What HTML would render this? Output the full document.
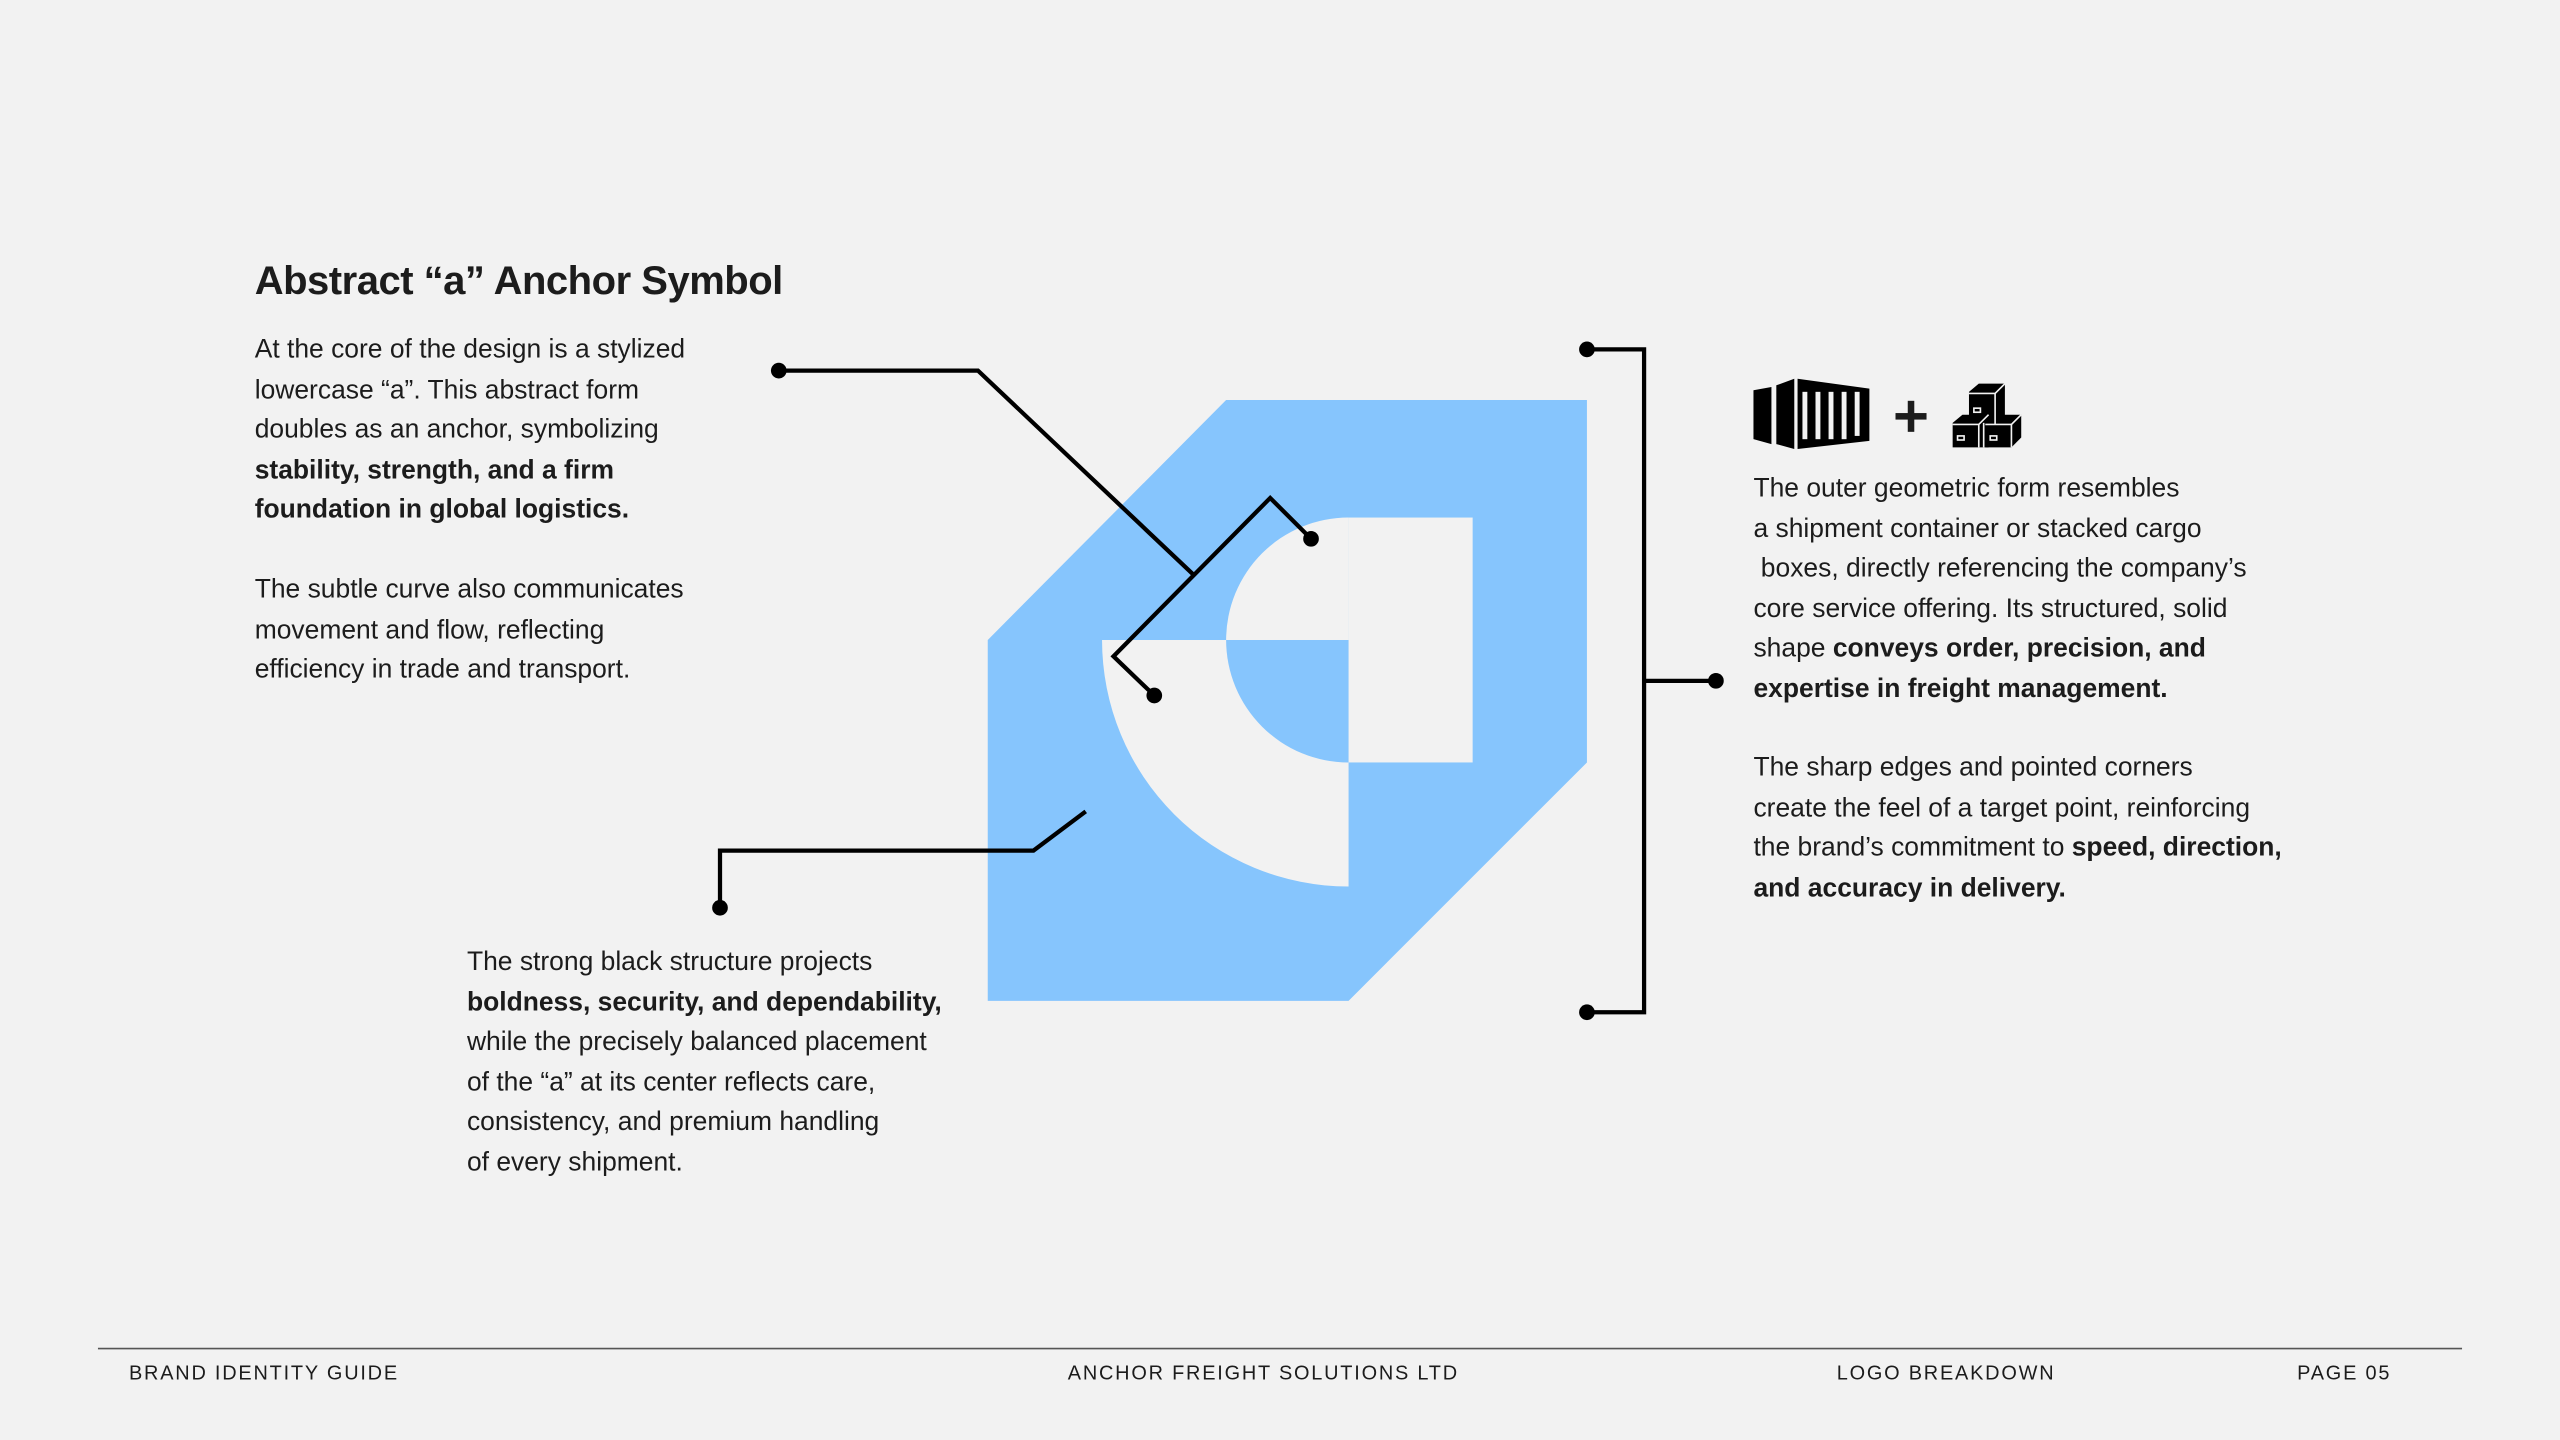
<!DOCTYPE html>
<html><head><meta charset="utf-8"><style>
html,body{margin:0;padding:0;background:#f2f2f2;width:2560px;height:1440px;overflow:hidden}
#w{position:absolute;left:0;top:0;width:1568px;height:882px;transform:scale(1.632653);transform-origin:0 0;font-family:"Liberation Sans",sans-serif;color:#1c1c1c}
.t{position:absolute;font-size:16.2px;line-height:24.5px;white-space:nowrap}
.t b{font-weight:bold}
h1{position:absolute;left:156px;top:159px;margin:0;font-size:24.5px;font-weight:bold;letter-spacing:-0.3px}
.f{position:absolute;top:834px;font-size:12.2px;letter-spacing:1.1px}
svg{position:absolute;left:0;top:0}
</style></head><body><div id="w">
<svg width="1568" height="882" viewBox="0 0 1568 882">
<polygon points="751,245 972,245 972,467 826,613 605,613 605,392" fill="#86c5fd"/>
<path d="M826,392 L675,392 A151,151 0 0 0 826,543 Z" fill="#f2f2f2"/>
<path d="M826,392 L751,392 A75,75 0 0 0 826,467 Z" fill="#86c5fd"/>
<path d="M826,392 L751,392 A75,75 0 0 1 826,317 Z" fill="#f2f2f2"/>
<rect x="826" y="317" width="76" height="150" fill="#f2f2f2"/>
<g fill="none" stroke="#000" stroke-width="2.6">
<polyline points="477,227 599,227 731,352"/>
<polyline points="803,330 778,305 682,402 707,426"/>
<polyline points="665,497 633,521 441,521 441,556"/>
<polyline points="972,214 1007,214 1007,620 972,620"/>
<line x1="1007" y1="417" x2="1051" y2="417"/>
</g>
<g fill="#000">
<circle cx="477" cy="227" r="4.8"/><circle cx="803" cy="330" r="4.8"/><circle cx="707" cy="426" r="4.8"/>
<circle cx="441" cy="556" r="4.8"/><circle cx="972" cy="214" r="4.8"/><circle cx="972" cy="620" r="4.8"/><circle cx="1051" cy="417" r="4.8"/>
</g>
<g fill="#000">
<polygon points="1074,239 1085,237 1085,272 1074,269"/>
<polygon points="1088,236 1099,232 1099,275 1088,272"/>
<polygon points="1101,232 1145,238 1145,270 1101,275"/>
</g>
<g fill="#f2f2f2"><rect x="1104" y="240" width="3" height="29"/><rect x="1112" y="240" width="3" height="29"/><rect x="1120" y="240" width="3" height="29"/><rect x="1128" y="240" width="3" height="29"/><rect x="1136" y="240" width="3" height="27"/></g>
<rect x="1161" y="253" width="19" height="4" fill="#1c1c1c"/><rect x="1168.5" y="245.5" width="4" height="19" fill="#1c1c1c"/>
<g fill="#000">
<polygon points="1206,240 1212,235 1228,235 1228,256 1222,260 1206,260"/>
<polygon points="1196,259 1202,254 1218,254 1218,274 1196,274"/>
<polygon points="1216,259 1222,254 1238,254 1238,268 1232,274 1216,274"/>
</g>
<g stroke="#f2f2f2" stroke-width="1" fill="none">
<polyline points="1206,241 1222,241 1228,235"/><line x1="1222" y1="241" x2="1222" y2="260"/>
<polyline points="1196,260 1212,260 1218,254"/><line x1="1212" y1="260" x2="1212" y2="274"/>
<polyline points="1216,260 1232,260 1238,254"/><line x1="1232" y1="260" x2="1232" y2="274"/><line x1="1215" y1="259" x2="1215" y2="274"/>
<rect x="1209" y="250" width="4" height="2.5"/><rect x="1199" y="267" width="4" height="2.5"/><rect x="1219" y="267" width="4" height="2.5"/>
</g>
<line x1="60" y1="826" x2="1508" y2="826" stroke="#555" stroke-width="1"/>
</svg>
<h1>Abstract “a” Anchor Symbol</h1>
<div class="t" style="left:156px;top:202px">At the core of the design is a stylized<br>lowercase “a”. This abstract form<br>doubles as an anchor, symbolizing<br><b>stability, strength, and a firm<br>foundation in global logistics.</b></div>
<div class="t" style="left:156px;top:349px">The subtle curve also communicates<br>movement and flow, reflecting<br>efficiency in trade and transport.</div>
<div class="t" style="left:286px;top:577px">The strong black structure projects<br><b>boldness, security, and dependability,</b><br>while the precisely balanced placement<br>of the “a” at its center reflects care,<br>consistency, and premium handling<br>of every shipment.</div>
<div class="t" style="left:1074px;top:287px">The outer geometric form resembles<br>a shipment container or stacked cargo<br>&nbsp;boxes, directly referencing the company’s<br>core service offering. Its structured, solid<br>shape <b>conveys order, precision, and<br>expertise in freight management.</b></div>
<div class="t" style="left:1074px;top:458px">The sharp edges and pointed corners<br>create the feel of a target point, reinforcing<br>the brand’s commitment to <b>speed, direction,<br>and accuracy in delivery.</b></div>
<div class="f" style="left:79px">BRAND IDENTITY GUIDE</div>
<div class="f" style="left:654px">ANCHOR FREIGHT SOLUTIONS LTD</div>
<div class="f" style="left:1125px">LOGO BREAKDOWN</div>
<div class="f" style="left:1407px">PAGE 05</div>
</div></body></html>
